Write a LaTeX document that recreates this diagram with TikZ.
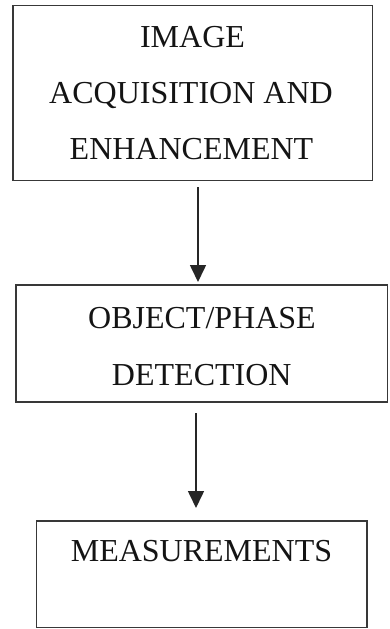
\documentclass[tikz,border=0pt]{standalone}
\usepackage{fontspec}
\setmainfont{Liberation Serif}
\usetikzlibrary{arrows.meta}

\begin{document}
\begin{tikzpicture}[x=1pt,y=-1pt,
  box/.style={draw=black!78, line width=1.4pt, rectangle, inner sep=0pt, outer sep=0pt},
  caption/.style={anchor=base, inner sep=0pt, font=\fontsize{32}{38}\selectfont, text=black!92},
  flow/.style={draw=black!85, line width=1.6pt, -{Triangle[width=16pt,length=17pt]}}]
  \useasboundingbox (0,0) rectangle (389,629);

  % the three stages
  \node[box, minimum width=359.5pt, minimum height=175pt] (b1) at (192.75,93) {};
  \node[box, minimum width=371.5pt, minimum height=117pt] (b2) at (201.75,343.5) {};
  \node[box, minimum width=330.5pt, minimum height=106.5pt] (b3) at (201.75,574.25) {};

  % stage labels
  \node[caption] (t1a) at (192.5,47) {IMAGE};
  \node[caption] (t1b) at (191,103) {ACQUISITION AND};
  \node[caption] (t1c) at (191.5,159) {ENHANCEMENT};
  \node[caption] (t2a) at (202,328) {OBJECT/PHASE};
  \node[caption] (t2b) at (201.75,385) {DETECTION};
  \node[caption] (t3a) at (201.5,561) {MEASUREMENTS};

  % connectors
  \draw[flow, shorten <=6.5pt, shorten >=3pt]
    ([xshift=5.25pt]b1.south) -- ([xshift=5.25pt]b1.south |- b2.north);
  \draw[flow, shorten <=11pt, shorten >=13pt]
    ([xshift=-5.75pt]b2.south) -- ([xshift=-5.75pt]b2.south |- b3.north);
\end{tikzpicture}
\end{document}
